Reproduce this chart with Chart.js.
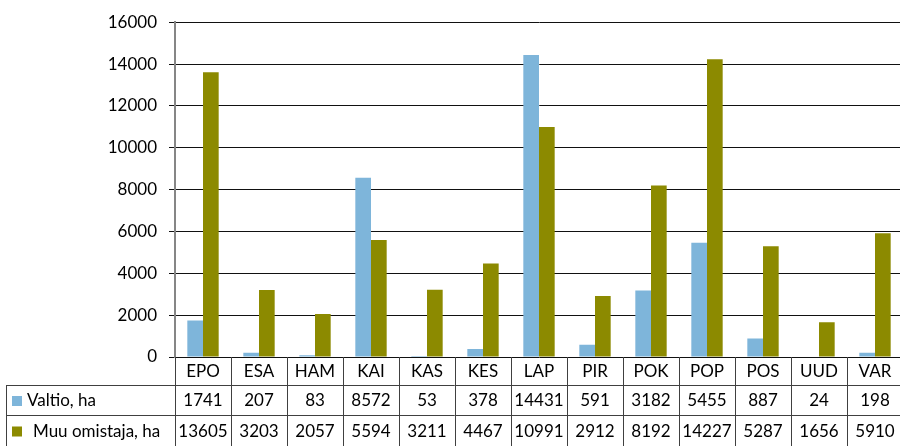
<!DOCTYPE html>
<html><head><meta charset="utf-8">
<script src="https://cdn.jsdelivr.net/npm/chart.js@4/dist/chart.umd.min.js"></script>
<style>html,body{margin:0;padding:0;overflow:hidden;background:#fff;width:900px;height:446px}canvas{display:block}</style>
</head><body>
<canvas id="c" width="904" height="446" style="width:904px;height:446px"></canvas>
<script>
const categories = ['EPO','ESA','HAM','KAI','KAS','KES','LAP','PIR','POK','POP','POS','UUD','VAR'];
const valtio = [1741, 207, 83, 8572, 53, 378, 14431, 591, 3182, 5455, 887, 24, 198];
const muu = [13605, 3203, 2057, 5594, 3211, 4467, 10991, 2912, 8192, 14227, 5287, 1656, 5910];
const seriesNames = ['Valtio, ha', 'Muu omistaja, ha'];
const seriesColors = ['#7EB5DA', '#8C8A00'];
const yMin = 0, yMax = 16000, yStep = 2000;

const FONT = 'Lato, "Open Sans", sans-serif';

const tablePlugin = {
  id: 'dataTable',
  afterDraw(chart) {
    const ctx = chart.ctx;
    const xs = chart.scales.x;
    const area = chart.chartArea;
    const n = categories.length;
    const w = (xs.right - xs.left) / n;
    const top = area.bottom;
    const r1 = 385, r2 = 415, bottom = 446;
    const tableLeft = 6;
    ctx.save();
    ctx.strokeStyle = '#404040';
    ctx.lineWidth = 1;
    ctx.beginPath();
    for (let i = 1; i <= n; i++) {
      const x = Math.round(xs.left + i * w) + 0.5;
      ctx.moveTo(x, top); ctx.lineTo(x, bottom);
    }
    ctx.moveTo(Math.round(xs.left) + 0.5, top); ctx.lineTo(Math.round(xs.left) + 0.5, bottom);
    ctx.moveTo(tableLeft + 0.5, r1); ctx.lineTo(tableLeft + 0.5, bottom);
    ctx.moveTo(tableLeft, r1 + 0.5); ctx.lineTo(xs.right, r1 + 0.5);
    ctx.moveTo(tableLeft, r2 + 0.5); ctx.lineTo(xs.right, r2 + 0.5);
    ctx.stroke();

    ctx.fillStyle = '#000';
    ctx.font = '17px ' + FONT;
    ctx.textAlign = 'center';
    ctx.textBaseline = 'middle';
    const rowsY = [(top + r1) / 2 + 1, (r1 + r2) / 2 + 1, (r2 + bottom) / 2 + 1];
    const rows = [categories, valtio, muu];
    rows.forEach((row, ri) => {
      row.forEach((v, i) => {
        const cx = xs.getPixelForValue(i);
        ctx.fillText(String(v), cx, rowsY[ri]);
      });
    });
    ctx.textAlign = 'left';
    const keyX = [27, 33];
    [1, 2].forEach((ri, si) => {
      ctx.fillStyle = seriesColors[si];
      ctx.fillRect(12, rowsY[ri] - 5, 10, 10);
      ctx.fillStyle = '#000';
      ctx.fillText(seriesNames[si], keyX[si], rowsY[ri]);
    });
    ctx.restore();
  }
};

new Chart(document.getElementById('c'), {
  type: 'bar',
  data: {
    labels: categories,
    datasets: [
      { label: seriesNames[0], data: valtio, backgroundColor: seriesColors[0] },
      { label: seriesNames[1], data: muu, backgroundColor: seriesColors[1] }
    ]
  },
  options: {
    responsive: false,
    animation: false,
    devicePixelRatio: 1,
    layout: { padding: { top: 20, right: 1, left: 0, bottom: 0 } },
    datasets: { bar: { categoryPercentage: 0.56, barPercentage: 1 } },
    plugins: { legend: { display: false }, tooltip: { enabled: false } },
    scales: {
      x: {
        ticks: { display: false },
        grid: { display: false },
        border: { display: false },
        afterFit(s) { s.height = 89; }
      },
      y: {
        min: yMin, max: yMax,
        ticks: { stepSize: yStep, color: '#000', font: { family: FONT, size: 17 }, padding: 12,
                 callback: (v) => String(v) },
        grid: { color: '#111', lineWidth: 1, tickLength: 6, tickColor: '#111' },
        border: { display: true, color: '#868686', width: 2 },
        afterFit(s) { s.width = 175; }
      }
    }
  },
  plugins: [tablePlugin]
});
</script>
</body></html>
